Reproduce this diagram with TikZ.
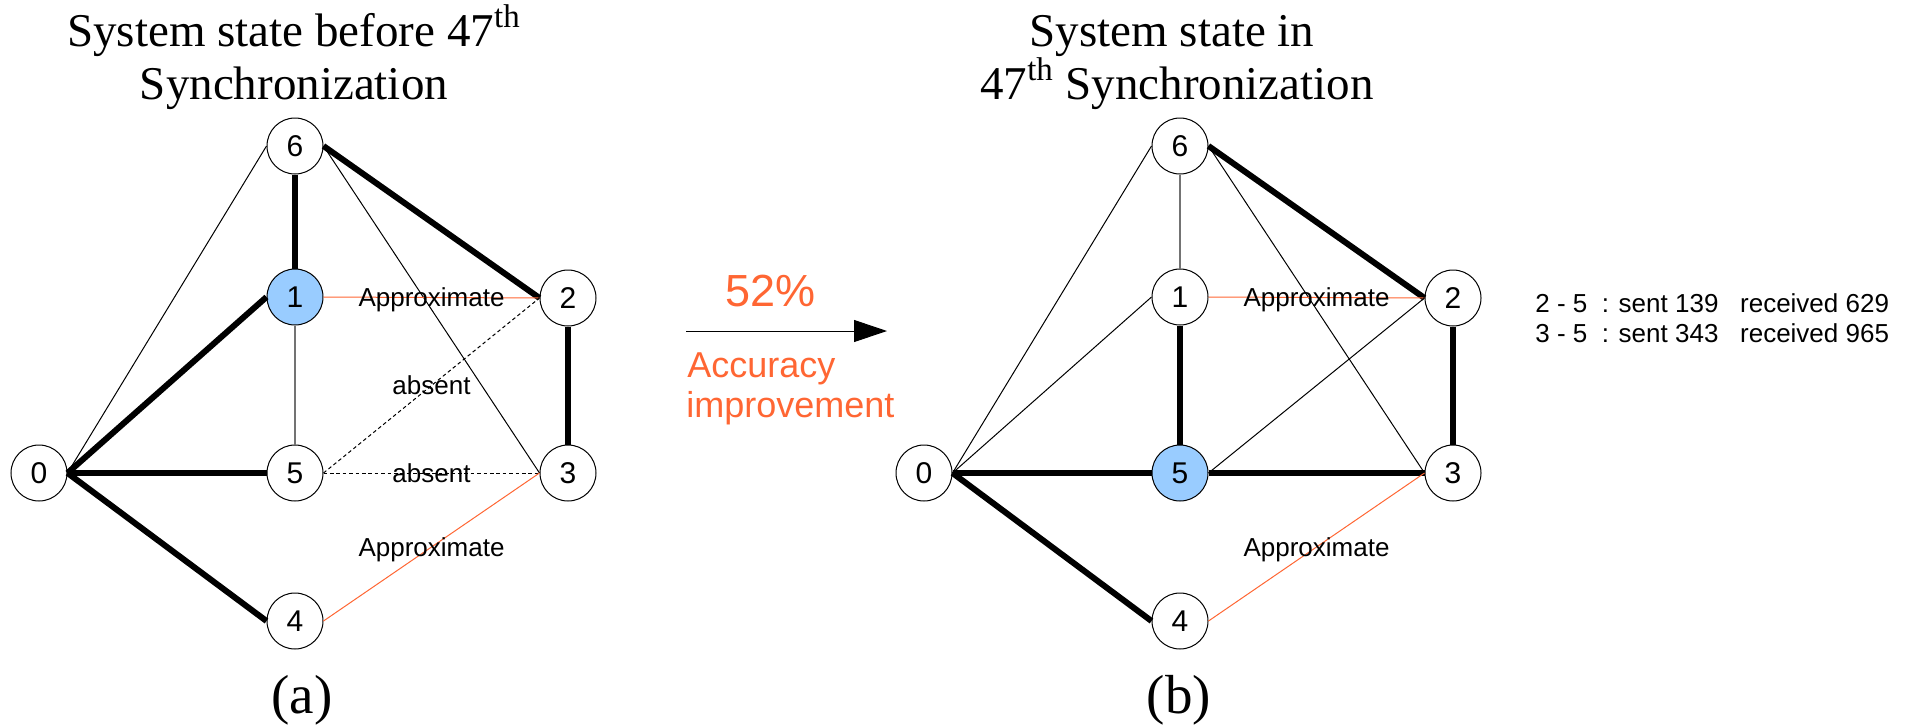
\documentclass[tikz,border=0pt]{standalone}
\usepackage{fontspec}
\setmainfont{Liberation Serif}
\setsansfont{Liberation Sans}
\usetikzlibrary{arrows.meta}
\definecolor{approxorange}{HTML}{FF6633}
\definecolor{syncblue}{HTML}{99CCFF}

\begin{document}
\begin{tikzpicture}[x=0.5pt, y=-0.5pt,
    vtx/.style={circle, draw, line width=0.5pt, minimum size=28pt, inner sep=0pt,
                font=\sffamily\fontsize{15}{17}\selectfont},
    heavy/.style={line width=3pt},
    light/.style={line width=0.5pt},
    faint/.style={line width=0.6pt, black!55},
    approx/.style={line width=0.5pt, approxorange},
    missing/.style={line width=0.5pt, dash pattern=on 1.8pt off 1.4pt},
    lbl/.style={font=\sffamily\fontsize{13}{15}\selectfont, text=black,
                inner sep=0pt, anchor=base, yshift=-4.65pt},
    info/.style={font=\sffamily\fontsize{13}{15}\selectfont, inner sep=0pt, anchor=base west},
    gain/.style={approxorange, inner sep=0pt, anchor=base west},
    title/.style={font=\fontsize{23.5}{26.5}\selectfont, inner sep=0pt, anchor=base},
    tag/.style={font=\fontsize{27.5}{30}\selectfont, inner sep=0pt, anchor=base}]
    \useasboundingbox (0,0) rectangle (1912,724);

    % Titles
    \node[title] (ttlA1) at (294,46) {System state before 47\textsuperscript{th}};
    \node[title] (ttlA2) at (294,99) {Synchronization};
    \node[title] (ttlB1) at (1172,46) {System state in};
    \node[title] (ttlB2) at (1177,99) {47\textsuperscript{th} Synchronization};

    % (a) before synchronization
    \foreach \n/\x/\y/\f in {0/39/473/white, 1/295/297/syncblue, 2/568/298/white,
                             3/568/473/white, 4/295/621/white, 5/295/473/white, 6/295/146/white}
        \node[vtx, fill=\f] (a\n) at (\x,\y) {\n};

    \draw[light] (a0.east) -- (a6.west);
    \draw[heavy] (a6.south) -- (a1.north);
    \draw[heavy] (a6.east) -- (a2.west);
    \draw[light] (a6.east) -- (a3.west);
    \draw[heavy] (a0.east) -- (a1.west);
    \draw[approx] (a1.east) -- (a2.west) node[lbl, midway] {Approximate};
    \draw[faint] (a1.south) -- (a5.north);
    \draw[missing] (a5.east) -- (a2.west) node[lbl, midway] {absent};
    \draw[missing] (a5.east) -- (a3.west) node[lbl, midway] {absent};
    \draw[heavy] (a2.south) -- (a3.north);
    \draw[heavy] (a0.east) -- (a5.west);
    \draw[heavy] (a0.east) -- (a4.west);
    \draw[approx] (a4.east) -- (a3.west) node[lbl, midway] {Approximate};

    \node[tag] (tagA) at (302,713) {(a)};

    % Improvement arrow
    \coordinate (arrS) at (686,331);
    \coordinate (arrE) at (887,331);
    \draw[line width=0.5pt, -{Triangle[length=16.5pt, width=11pt]}] (arrS) -- (arrE);
    \node[gain, font=\sffamily\fontsize{22.5}{24}\selectfont] (pct) at (725,306) {52\%};
    \node[gain, font=\sffamily\fontsize{18}{20}\selectfont] (acc1) at (687,377) {Accuracy};
    \node[gain, font=\sffamily\fontsize{18}{20}\selectfont] (acc2) at (686,417) {improvement};

    % (b) in synchronization
    \begin{scope}[xshift=442.5pt]
        \foreach \n/\x/\y/\f in {0/39/473/white, 1/295/297/white, 2/568/298/white,
                                 3/568/473/white, 4/295/621/white, 5/295/473/syncblue, 6/295/146/white}
            \node[vtx, fill=\f] (b\n) at (\x,\y) {\n};

        \draw[light] (b0.east) -- (b6.west);
        \draw[faint] (b6.south) -- (b1.north);
        \draw[heavy] (b6.east) -- (b2.west);
        \draw[light] (b6.east) -- (b3.west);
        \draw[light] (b0.east) -- (b1.west);
        \draw[approx] (b1.east) -- (b2.west) node[lbl, midway] {Approximate};
        \draw[heavy] (b1.south) -- (b5.north);
        \draw[light] (b5.east) -- (b2.west);
        \draw[heavy] (b0.east) -- (b5.west);
        \draw[heavy] (b5.east) -- (b3.west);
        \draw[heavy] (b2.south) -- (b3.north);
        \draw[heavy] (b0.east) -- (b4.west);
        \draw[approx] (b4.east) -- (b3.west) node[lbl, midway] {Approximate};
    \end{scope}

    \node[tag] (tagB) at (1179,713) {(b)};

    % Message counts
    \node[info] (cnt1) at (1535,312.5) {2 - 5\ \ : sent 139\ \ \ received 629};
    \node[info] (cnt2) at (1535,342) {3 - 5\ \ : sent 343\ \ \ received 965};
\end{tikzpicture}
\end{document}
